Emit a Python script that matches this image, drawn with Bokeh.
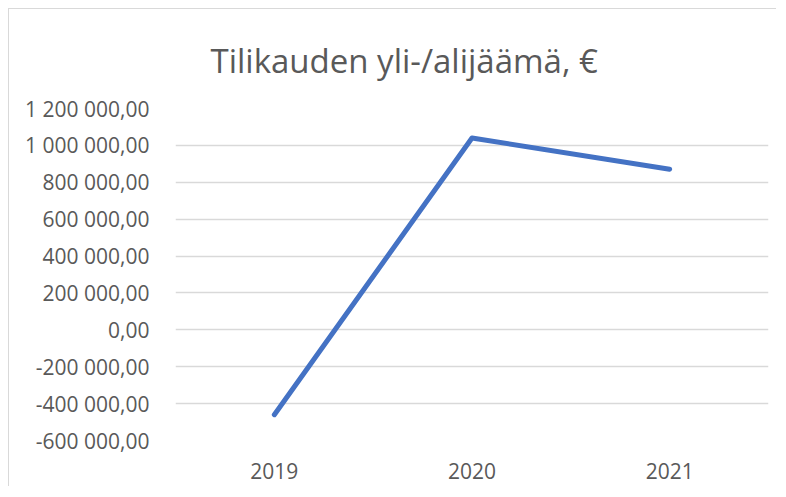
from bokeh.plotting import figure
from bokeh.models import FactorRange, Range1d, FixedTicker, CustomJSTickFormatter
from bokeh.embed import file_html
from bokeh.resources import INLINE

years = ["2019", "2020", "2021"]
values = [-460000, 1040000, 871000]
y_ticks = [-600000, -400000, -200000, 0, 200000, 400000, 600000, 800000, 1000000, 1200000]
title_text = "Tilikauden yli-/alijäämä, €"

TEXT = "#595959"
FONT = "Open Sans"

p = figure(
    width=768, height=478,
    x_range=FactorRange(*years),
    y_range=Range1d(-600000, 1200000),
    output_backend="svg", toolbar_location=None,
    min_border_left=166, min_border_right=9,
    min_border_top=99, min_border_bottom=47,
    title=title_text,
)
p.styles = {
    "margin-left": "9px", "margin-top": "9px",
    "box-shadow": "-1px -1px 0 0 #D9D9D9",
}

p.title.align = "left"
p.title.text_font = FONT
p.title.text_font_size = "33px"
p.title.text_font_style = "normal"
p.title.text_color = TEXT
p.title.offset = 35
p.title.standoff = 52

p.outline_line_color = None
p.background_fill_color = "white"
p.border_fill_color = "white"

p.line(years, values, line_color="#4472C4", line_width=5,
       line_cap="round", line_join="round")

p.yaxis.ticker = FixedTicker(ticks=y_ticks)
p.yaxis.formatter = CustomJSTickFormatter(code="""
const s = Math.abs(tick).toFixed(2).split('.');
const i = s[0].replace(/\\B(?=(\\d{3})+(?!\\d))/g, ' ');
return (tick < 0 ? '-' : '') + i + ',' + s[1];
""")
for ax in (p.xaxis, p.yaxis):
    ax.axis_line_color = None
    ax.major_tick_line_color = None
    ax.minor_tick_line_color = None
    ax.major_label_text_font = FONT
    ax.major_label_text_font_size = "21px"
    ax.major_label_text_color = TEXT
p.yaxis.major_label_standoff = 20
p.xaxis.major_label_standoff = 16

p.xgrid.grid_line_color = None
p.ygrid.grid_line_color = "#D9D9D9"
p.ygrid.grid_line_width = 1.5

open("out.html", "w").write(file_html(p, INLINE))
